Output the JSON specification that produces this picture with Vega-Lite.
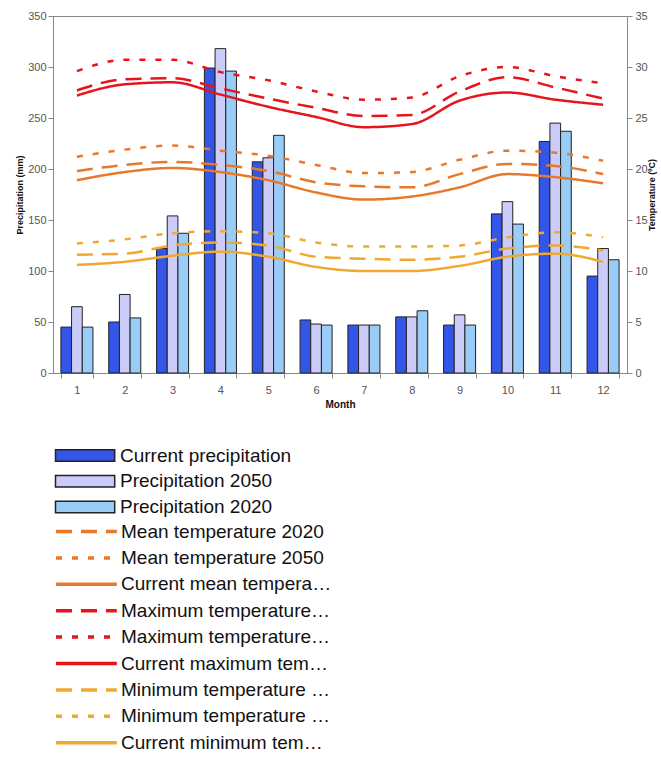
{
  "$schema": "https://vega.github.io/schema/vega-lite/v6.json",
  "width": 574,
  "height": 357,
  "autosize": {"type": "none"},
  "padding": {"left": 53, "top": 16, "right": 34, "bottom": 385},
  "background": "white",
  "config": {
    "font": "Liberation Sans",
    "view": {"stroke": "#888", "strokeWidth": 1},
    "axis": {
      "domainColor": "#888",
      "tickColor": "#888",
      "tickSize": 5,
      "labelColor": "#555",
      "labelFontSize": 11,
      "labelFont": "Liberation Sans",
      "titleFont": "Liberation Sans",
      "titleFontSize": 9,
      "titleFontWeight": "bold",
      "titleColor": "#111",
      "grid": false
    }
  },
  "datasets": {
    "precip": [
      {"month": 1, "series": "Current precipitation", "value": 45},
      {"month": 1, "series": "Precipitation 2050", "value": 65},
      {"month": 1, "series": "Precipitation 2020", "value": 45},
      {"month": 2, "series": "Current precipitation", "value": 50},
      {"month": 2, "series": "Precipitation 2050", "value": 77},
      {"month": 2, "series": "Precipitation 2020", "value": 54},
      {"month": 3, "series": "Current precipitation", "value": 122},
      {"month": 3, "series": "Precipitation 2050", "value": 154},
      {"month": 3, "series": "Precipitation 2020", "value": 137},
      {"month": 4, "series": "Current precipitation", "value": 299},
      {"month": 4, "series": "Precipitation 2050", "value": 318},
      {"month": 4, "series": "Precipitation 2020", "value": 296},
      {"month": 5, "series": "Current precipitation", "value": 207},
      {"month": 5, "series": "Precipitation 2050", "value": 211},
      {"month": 5, "series": "Precipitation 2020", "value": 233},
      {"month": 6, "series": "Current precipitation", "value": 52},
      {"month": 6, "series": "Precipitation 2050", "value": 48},
      {"month": 6, "series": "Precipitation 2020", "value": 47},
      {"month": 7, "series": "Current precipitation", "value": 47},
      {"month": 7, "series": "Precipitation 2050", "value": 47},
      {"month": 7, "series": "Precipitation 2020", "value": 47},
      {"month": 8, "series": "Current precipitation", "value": 55},
      {"month": 8, "series": "Precipitation 2050", "value": 55},
      {"month": 8, "series": "Precipitation 2020", "value": 61},
      {"month": 9, "series": "Current precipitation", "value": 47},
      {"month": 9, "series": "Precipitation 2050", "value": 57},
      {"month": 9, "series": "Precipitation 2020", "value": 47},
      {"month": 10, "series": "Current precipitation", "value": 156},
      {"month": 10, "series": "Precipitation 2050", "value": 168},
      {"month": 10, "series": "Precipitation 2020", "value": 146},
      {"month": 11, "series": "Current precipitation", "value": 227},
      {"month": 11, "series": "Precipitation 2050", "value": 245},
      {"month": 11, "series": "Precipitation 2020", "value": 237},
      {"month": 12, "series": "Current precipitation", "value": 95},
      {"month": 12, "series": "Precipitation 2050", "value": 122},
      {"month": 12, "series": "Precipitation 2020", "value": 111}
    ],
    "temp": [
      {"month": 1, "series": "Current maximum temperature", "value": 27.2},
      {"month": 2, "series": "Current maximum temperature", "value": 28.3},
      {"month": 3, "series": "Current maximum temperature", "value": 28.5},
      {"month": 4, "series": "Current maximum temperature", "value": 27.3},
      {"month": 5, "series": "Current maximum temperature", "value": 26.1},
      {"month": 6, "series": "Current maximum temperature", "value": 25.1},
      {"month": 7, "series": "Current maximum temperature", "value": 24.1},
      {"month": 8, "series": "Current maximum temperature", "value": 24.4},
      {"month": 9, "series": "Current maximum temperature", "value": 26.7},
      {"month": 10, "series": "Current maximum temperature", "value": 27.5},
      {"month": 11, "series": "Current maximum temperature", "value": 26.8},
      {"month": 12, "series": "Current maximum temperature", "value": 26.3},
      {"month": 1, "series": "Maximum temperature 2020", "value": 27.7},
      {"month": 2, "series": "Maximum temperature 2020", "value": 28.8},
      {"month": 3, "series": "Maximum temperature 2020", "value": 28.9},
      {"month": 4, "series": "Maximum temperature 2020", "value": 27.9},
      {"month": 5, "series": "Maximum temperature 2020", "value": 26.9},
      {"month": 6, "series": "Maximum temperature 2020", "value": 26.0},
      {"month": 7, "series": "Maximum temperature 2020", "value": 25.2},
      {"month": 8, "series": "Maximum temperature 2020", "value": 25.3},
      {"month": 9, "series": "Maximum temperature 2020", "value": 27.6},
      {"month": 10, "series": "Maximum temperature 2020", "value": 29.0},
      {"month": 11, "series": "Maximum temperature 2020", "value": 28.0},
      {"month": 12, "series": "Maximum temperature 2020", "value": 26.9},
      {"month": 1, "series": "Maximum temperature 2050", "value": 29.6},
      {"month": 2, "series": "Maximum temperature 2050", "value": 30.7},
      {"month": 3, "series": "Maximum temperature 2050", "value": 30.7},
      {"month": 4, "series": "Maximum temperature 2050", "value": 29.5},
      {"month": 5, "series": "Maximum temperature 2050", "value": 28.7},
      {"month": 6, "series": "Maximum temperature 2050", "value": 27.6},
      {"month": 7, "series": "Maximum temperature 2050", "value": 26.8},
      {"month": 8, "series": "Maximum temperature 2050", "value": 27.0},
      {"month": 9, "series": "Maximum temperature 2050", "value": 29.1},
      {"month": 10, "series": "Maximum temperature 2050", "value": 30.0},
      {"month": 11, "series": "Maximum temperature 2050", "value": 29.1},
      {"month": 12, "series": "Maximum temperature 2050", "value": 28.4},
      {"month": 1, "series": "Current mean temperature", "value": 18.9},
      {"month": 2, "series": "Current mean temperature", "value": 19.7},
      {"month": 3, "series": "Current mean temperature", "value": 20.1},
      {"month": 4, "series": "Current mean temperature", "value": 19.7},
      {"month": 5, "series": "Current mean temperature", "value": 18.9},
      {"month": 6, "series": "Current mean temperature", "value": 17.7},
      {"month": 7, "series": "Current mean temperature", "value": 17.0},
      {"month": 8, "series": "Current mean temperature", "value": 17.3},
      {"month": 9, "series": "Current mean temperature", "value": 18.2},
      {"month": 10, "series": "Current mean temperature", "value": 19.5},
      {"month": 11, "series": "Current mean temperature", "value": 19.2},
      {"month": 12, "series": "Current mean temperature", "value": 18.6},
      {"month": 1, "series": "Mean temperature 2020", "value": 19.8},
      {"month": 2, "series": "Mean temperature 2020", "value": 20.4},
      {"month": 3, "series": "Mean temperature 2020", "value": 20.7},
      {"month": 4, "series": "Mean temperature 2020", "value": 20.4},
      {"month": 5, "series": "Mean temperature 2020", "value": 19.8},
      {"month": 6, "series": "Mean temperature 2020", "value": 18.7},
      {"month": 7, "series": "Mean temperature 2020", "value": 18.3},
      {"month": 8, "series": "Mean temperature 2020", "value": 18.2},
      {"month": 9, "series": "Mean temperature 2020", "value": 19.5},
      {"month": 10, "series": "Mean temperature 2020", "value": 20.5},
      {"month": 11, "series": "Mean temperature 2020", "value": 20.3},
      {"month": 12, "series": "Mean temperature 2020", "value": 19.5},
      {"month": 1, "series": "Mean temperature 2050", "value": 21.2},
      {"month": 2, "series": "Mean temperature 2050", "value": 21.9},
      {"month": 3, "series": "Mean temperature 2050", "value": 22.3},
      {"month": 4, "series": "Mean temperature 2050", "value": 21.8},
      {"month": 5, "series": "Mean temperature 2050", "value": 21.3},
      {"month": 6, "series": "Mean temperature 2050", "value": 20.4},
      {"month": 7, "series": "Mean temperature 2050", "value": 19.6},
      {"month": 8, "series": "Mean temperature 2050", "value": 19.7},
      {"month": 9, "series": "Mean temperature 2050", "value": 20.9},
      {"month": 10, "series": "Mean temperature 2050", "value": 21.8},
      {"month": 11, "series": "Mean temperature 2050", "value": 21.6},
      {"month": 12, "series": "Mean temperature 2050", "value": 20.8},
      {"month": 1, "series": "Current minimum temperature", "value": 10.6},
      {"month": 2, "series": "Current minimum temperature", "value": 10.9},
      {"month": 3, "series": "Current minimum temperature", "value": 11.5},
      {"month": 4, "series": "Current minimum temperature", "value": 11.9},
      {"month": 5, "series": "Current minimum temperature", "value": 11.4},
      {"month": 6, "series": "Current minimum temperature", "value": 10.4},
      {"month": 7, "series": "Current minimum temperature", "value": 10.0},
      {"month": 8, "series": "Current minimum temperature", "value": 10.0},
      {"month": 9, "series": "Current minimum temperature", "value": 10.5},
      {"month": 10, "series": "Current minimum temperature", "value": 11.4},
      {"month": 11, "series": "Current minimum temperature", "value": 11.7},
      {"month": 12, "series": "Current minimum temperature", "value": 10.9},
      {"month": 1, "series": "Minimum temperature 2020", "value": 11.6},
      {"month": 2, "series": "Minimum temperature 2020", "value": 11.7},
      {"month": 3, "series": "Minimum temperature 2020", "value": 12.5},
      {"month": 4, "series": "Minimum temperature 2020", "value": 12.8},
      {"month": 5, "series": "Minimum temperature 2020", "value": 12.5},
      {"month": 6, "series": "Minimum temperature 2020", "value": 11.4},
      {"month": 7, "series": "Minimum temperature 2020", "value": 11.2},
      {"month": 8, "series": "Minimum temperature 2020", "value": 11.1},
      {"month": 9, "series": "Minimum temperature 2020", "value": 11.4},
      {"month": 10, "series": "Minimum temperature 2020", "value": 12.2},
      {"month": 11, "series": "Minimum temperature 2020", "value": 12.5},
      {"month": 12, "series": "Minimum temperature 2020", "value": 12.0},
      {"month": 1, "series": "Minimum temperature 2050", "value": 12.7},
      {"month": 2, "series": "Minimum temperature 2050", "value": 13.1},
      {"month": 3, "series": "Minimum temperature 2050", "value": 13.7},
      {"month": 4, "series": "Minimum temperature 2050", "value": 13.9},
      {"month": 5, "series": "Minimum temperature 2050", "value": 13.7},
      {"month": 6, "series": "Minimum temperature 2050", "value": 12.8},
      {"month": 7, "series": "Minimum temperature 2050", "value": 12.4},
      {"month": 8, "series": "Minimum temperature 2050", "value": 12.4},
      {"month": 9, "series": "Minimum temperature 2050", "value": 12.5},
      {"month": 10, "series": "Minimum temperature 2050", "value": 13.3},
      {"month": 11, "series": "Minimum temperature 2050", "value": 13.8},
      {"month": 12, "series": "Minimum temperature 2050", "value": 13.3}
    ]
  },
  "layer": [
    {
      "data": {"name": "precip"},
      "mark": {"type": "bar", "stroke": "#222", "strokeWidth": 1},
      "encoding": {
        "x": {
          "field": "month",
          "type": "ordinal",
          "scale": {"paddingInner": 0.33, "paddingOuter": 0.165},
          "axis": {"title": "Month", "labelAngle": 0, "tickBand": "extent", "titleFontSize": 10, "titlePadding": 4, "labelPadding": 6}
        },
        "xOffset": {
          "field": "series",
          "type": "nominal",
          "scale": {"domain": ["Current precipitation", "Precipitation 2050", "Precipitation 2020"]}
        },
        "y": {
          "field": "value",
          "type": "quantitative",
          "scale": {"domain": [0, 350], "nice": false},
          "axis": {"title": "Precipitation (mm)", "values": [0, 50, 100, 150, 200, 250, 300, 350], "titlePadding": 3, "labelPadding": 2}
        },
        "fill": {
          "field": "series",
          "type": "nominal",
          "scale": {
            "domain": ["Current precipitation", "Precipitation 2050", "Precipitation 2020"],
            "range": ["#3355e8", "#ccccfa", "#99cdf8"]
          },
          "legend": {
            "orient": "none",
            "legendX": 1,
            "legendY": 430,
            "title": null,
            "symbolType": "M-1,-0.72H6.4V0.72H-1Z",
            "symbolSize": 256,
            "symbolStrokeColor": "#222",
            "symbolStrokeWidth": 1.5,
            "labelFontSize": 19,
            "labelFont": "Liberation Sans",
            "labelColor": "#111",
            "labelOffset": 47,
            "labelLimit": 212,
            "rowPadding": 5.7
          }
        }
      }
    },
    {
      "data": {"name": "temp"},
      "mark": {"type": "line", "strokeWidth": 2.5, "interpolate": "monotone"},
      "encoding": {
        "x": {"field": "month", "type": "ordinal"},
        "y": {
          "field": "value",
          "type": "quantitative",
          "scale": {"domain": [0, 35], "nice": false},
          "axis": {"orient": "right", "title": "Temperature (ºC)", "values": [0, 5, 10, 15, 20, 25, 30, 35], "titleAngle": -90, "titlePadding": 9, "labelPadding": 3}
        },
        "stroke": {
          "field": "series",
          "type": "nominal",
          "scale": {
            "domain": ["Mean temperature 2020", "Mean temperature 2050", "Current mean temperature", "Maximum temperature 2020", "Maximum temperature 2050", "Current maximum temperature", "Minimum temperature 2020", "Minimum temperature 2050", "Current minimum temperature"],
            "range": ["#e8782a", "#e8782a", "#e8782a", "#e8141c", "#e8141c", "#e8141c", "#f0a830", "#f0a830", "#f0a830"]
          },
          "legend": {
            "orient": "none",
            "legendX": 1,
            "legendY": 505.5,
            "title": null,
            "symbolType": "M-1,0H6.6",
            "symbolSize": 256,
            "symbolStrokeWidth": 3.5,
            "labelFontSize": 19,
            "labelFont": "Liberation Sans",
            "labelColor": "#111",
            "labelOffset": 47,
            "labelLimit": 212,
            "rowPadding": 6.4
          }
        },
        "strokeDash": {
          "field": "series",
          "type": "nominal",
          "scale": {
            "domain": ["Mean temperature 2020", "Mean temperature 2050", "Current mean temperature", "Maximum temperature 2020", "Maximum temperature 2050", "Current maximum temperature", "Minimum temperature 2020", "Minimum temperature 2050", "Current minimum temperature"],
            "range": [[16, 9], [6, 10], [1, 0], [16, 9], [6, 10], [1, 0], [16, 9], [6, 10], [1, 0]]
          },
          "legend": {
            "orient": "none",
            "legendX": 1,
            "legendY": 505.5,
            "title": null,
            "symbolType": "M-1,0H6.6",
            "symbolSize": 256,
            "symbolStrokeWidth": 3.5,
            "labelFontSize": 19,
            "labelFont": "Liberation Sans",
            "labelColor": "#111",
            "labelOffset": 47,
            "labelLimit": 212,
            "rowPadding": 6.4
          }
        }
      }
    }
  ],
  "resolve": {"scale": {"y": "independent", "fill": "independent", "stroke": "independent", "strokeDash": "independent"}}
}
